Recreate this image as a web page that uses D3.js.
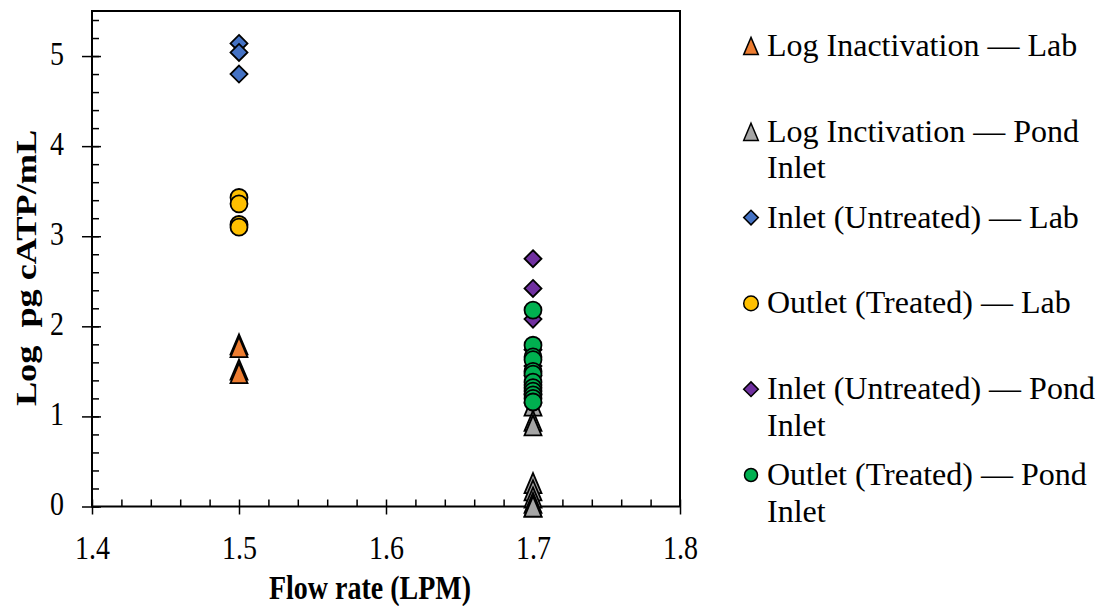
<!DOCTYPE html>
<html>
<head>
<meta charset="utf-8">
<script src="https://cdn.jsdelivr.net/npm/d3@7"></script>
<style>
  body { margin: 0; background: #fff; }
  text { font-family: "Liberation Serif", "Times New Roman", serif; }
</style>
</head>
<body>
<script>
const width = 1101;
const height = 606;

// The data (flow rate in LPM, log pg cATP/mL)
const labFlow = 1.5;
const pondFlow = 1.7;
const logInactLab = [1.80, 1.77, 1.52, 1.48];
const logInactPond = [1.12, 0.95, 0.90, 0.26, 0.18, 0.10, 0.04, 0.0, 0.0];
const inletLab = [5.14, 5.04, 4.80];
const outletLab = [3.43, 3.36, 3.13, 3.10];
const inletPond = [2.75, 2.42, 2.08, 1.74, 1.56, 1.45, 1.35, 1.25, 1.15];
const outletPond = [2.18, 1.79, 1.66, 1.63, 1.50, 1.47, 1.38, 1.32, 1.28, 1.24, 1.20, 1.16];

// tick labels
const xTicks = [1.4, 1.5, 1.6, 1.7, 1.8];
const yTicks = [0, 1, 2, 3, 4, 5];

// series, in the order they are drawn
const series = [
  { lines: ['Log Inactivation \u2014 Lab'], x: labFlow, values: logInactLab, shape: 'triangle', color: '#ED7D31' },
  { lines: ['Log Inctivation \u2014 Pond', 'Inlet'], x: pondFlow, values: logInactPond, shape: 'triangle', color: '#A5A5A5' },
  { lines: ['Inlet (Untreated) \u2014 Lab'], x: labFlow, values: inletLab, shape: 'diamond', color: '#4472C4' },
  { lines: ['Outlet (Treated) \u2014 Lab'], x: labFlow, values: outletLab, shape: 'circle', color: '#FFC000' },
  { lines: ['Inlet (Untreated) \u2014 Pond', 'Inlet'], x: pondFlow, values: inletPond, shape: 'diamond', color: '#7030A0' },
  { lines: ['Outlet (Treated) \u2014 Pond', 'Inlet'], x: pondFlow, values: outletPond, shape: 'circle', color: '#00B050' }
];

const plot = { left: 92, right: 680, top: 11, bottom: 506.5 };
const serif = '"Liberation Serif", "Times New Roman", serif';

const x = d3.scaleLinear().domain([1.4, 1.8]).range([plot.left, plot.right]);
const y = d3.scaleLinear().domain([0, 5.5]).range([plot.bottom, plot.top]);

/**
 marker path, r is half of the marker width
*/
function markerPath(shape, r) {
  if (shape === 'diamond') {
    return 'M0,' + (-r) + 'L' + r + ',0L0,' + r + 'L' + (-r) + ',0Z';
  }
  if (shape === 'triangle') {
    var h = r * 1.18;
    return 'M0,' + (-h) + 'L' + r + ',' + h + 'L' + (-r) + ',' + h + 'Z';
  }
  return 'M' + r + ',0A' + r + ',' + r + ' 0 1,1 ' + (-r) + ',0A' + r + ',' + r + ' 0 1,1 ' + r + ',0Z';
}

var svg = d3.select('body')
  .append('svg')
  .attr('width', width)
  .attr('height', height);

// axes
var minorY = d3.range(0, 5.51, 0.2);
var minorX = d3.range(1.4, 1.801, 0.02);

function styleAxis(g) {
  g.attr('font-family', serif);
  g.select('.domain').remove();
  g.selectAll('line').attr('stroke', '#000').attr('stroke-width', 1.5);
  g.selectAll('text')
    .attr('font-family', serif)
    .style('font-size', '28px')
    .attr('fill', '#000');
}

svg.append('g')
  .attr('transform', 'translate(' + plot.left + ',0)')
  .call(d3.axisLeft(y).tickValues(minorY).tickSize(-7).tickFormat(''))
  .call(styleAxis);
svg.append('g')
  .attr('transform', 'translate(' + plot.left + ',0)')
  .call(d3.axisLeft(y).tickValues(yTicks).tickSize(-9).tickFormat(''))
  .call(styleAxis);
var yAxis = svg.append('g')
  .attr('transform', 'translate(' + plot.left + ',0)')
  .call(d3.axisLeft(y).tickValues(yTicks).tickSize(10).tickPadding(18).tickFormat(d3.format('d')))
  .call(styleAxis);
// the labels in the picture are a bit taller than wide
yAxis.selectAll('text')
  .attr('dy', null)
  .attr('transform', 'translate(0,8) scale(1,1.18)');

svg.append('g')
  .attr('transform', 'translate(0,' + plot.bottom + ')')
  .call(d3.axisBottom(x).tickValues(minorX).tickSize(-7).tickFormat(''))
  .call(styleAxis);
var xAxis = svg.append('g')
  .attr('transform', 'translate(0,' + plot.bottom + ')')
  .call(d3.axisBottom(x).tickValues(xTicks).tickSize(8).tickPadding(0).tickFormat(d3.format('.1f')))
  .call(styleAxis);
xAxis.selectAll('text')
  .attr('dy', null)
  .attr('y', 0)
  .attr('transform', 'translate(0,52) scale(1,1.18)');

// plot frame
svg.append('rect')
  .attr('x', plot.left)
  .attr('y', plot.top)
  .attr('width', plot.right - plot.left)
  .attr('height', plot.bottom - plot.top)
  .attr('fill', 'none')
  .attr('stroke', '#000')
  .attr('stroke-width', 2);

// points
series.forEach(function (s) {
  svg.append('g')
    .selectAll('path')
    .data(s.values)
    .join('path')
    .attr('transform', function (d) { return 'translate(' + x(s.x) + ',' + y(d) + ')'; })
    .attr('d', markerPath(s.shape, 8.5))
    .attr('fill', s.color)
    .attr('stroke', '#000')
    .attr('stroke-width', 1.8);
});

// axis titles
svg.append('text')
  .attr('transform', 'translate(370,599) scale(1,1.2)')
  .style('font-size', '28px')
  .style('font-weight', 'bold')
  .style('text-anchor', 'middle')
  .text('Flow rate (LPM)');

svg.append('text')
  .attr('transform', 'translate(36,268) rotate(-90) scale(1.25,1)')
  .style('font-size', '29px')
  .style('font-weight', 'bold')
  .style('text-anchor', 'middle')
  .style('white-space', 'pre')
  .text('Log  pg cATP/mL');

// legend
var legend = svg.append('g');
series.forEach(function (s, i) {
  var cy = 46 + i * 85.8;
  legend.append('path')
    .attr('transform', 'translate(751,' + cy + ')')
    .attr('d', markerPath(s.shape, i === 5 ? 6.5 : 7.3))
    .attr('fill', s.color)
    .attr('stroke', '#000')
    .attr('stroke-width', 1.5);
  var t = legend.append('text')
    .attr('x', 767)
    .attr('y', cy + 10)
    .style('font-size', '32px')
    .attr('fill', '#000');
  s.lines.forEach(function (line, j) {
    t.append('tspan')
      .attr('x', 767)
      .attr('dy', j === 0 ? 0 : 36.5)
      .text(line);
  });
});
</script>
</body>
</html>
